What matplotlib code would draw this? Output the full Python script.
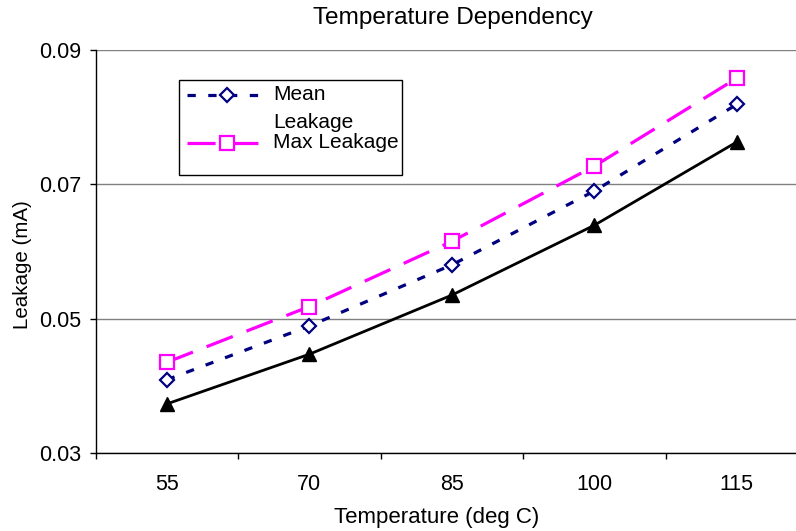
import matplotlib
matplotlib.use("Agg")
import matplotlib.pyplot as plt
from matplotlib.lines import Line2D
from matplotlib.patches import Rectangle
import numpy as np

plt.rcParams['font.family'] = ['Liberation Sans', 'DejaVu Sans']

temps = ["55", "70", "85", "100", "115"]
mean_leak = [0.0409, 0.0489, 0.0580, 0.0690, 0.0819]
max_leak = [0.0435, 0.0518, 0.0615, 0.0727, 0.0858]
min_leak = [0.0373, 0.0447, 0.0535, 0.0639, 0.0763]

W, H = 796, 531
NAVY, MAGENTA = '#000080', '#FF00FF'
mean_dash = (2.6, 3.9)
max_dash = (8.8, 4.6)

fig = plt.figure(figsize=(W / 100, H / 100), dpi=100)
# plot area runs past the right edge of the picture, as in the original
ax = fig.add_axes([95.5 / W, (H - 453) / H, (808 - 95.5) / W, (453 - 50) / H])

x = np.arange(len(temps))
ax.plot(x, min_leak, color='black', lw=2.0, marker='^', ms=10,
        mfc='black', mec='black', zorder=3)
ax.plot(x, mean_leak, color=NAVY, lw=2.3, dashes=mean_dash,
        marker='D', ms=7, mfc='white', mec=NAVY, mew=1.6, zorder=4)
ax.plot(x, max_leak, color=MAGENTA, lw=2.3, dashes=max_dash,
        marker='s', ms=9.5, mfc='white', mec=MAGENTA, mew=1.6, zorder=4)

ax.set_xlim(-0.5, len(temps) - 0.5)
ax.set_ylim(0.03, 0.09)
ax.set_yticks([0.03, 0.05, 0.07, 0.09])
ax.set_yticklabels(["0.03", "0.05", "0.07", "0.09"])
ax.set_xticks(x)
ax.set_xticklabels(temps)
ax.set_xticks(np.arange(-0.5, len(temps)), minor=True)
ax.tick_params(axis='x', which='major', length=0, pad=15, labelsize=15.5)
ax.tick_params(axis='x', which='minor', length=4.5, width=1, direction='out')
ax.tick_params(axis='y', which='major', length=4.5, width=1, direction='out',
               pad=6, labelsize=15.5)

ax.grid(axis='y', color='#808080', lw=1)
ax.set_axisbelow(True)
for s in ['top', 'right']:
    ax.spines[s].set_visible(False)
for s in ['left', 'bottom']:
    ax.spines[s].set_color('black')
    ax.spines[s].set_linewidth(1)

fig.text(453 / W, 1 - 18 / H, "Temperature Dependency", ha='center', va='center', fontsize=17.6)
fig.text(437 / W, 1 - 517 / H, "Temperature (deg C)", ha='center', va='center', fontsize=16)
fig.text(23 / W, 1 - 265 / H, "Leakage (mA)", ha='center', va='center', rotation=90, fontsize=14.8)

# legend drawn by hand (the box truncates the third series like the original)
fig.add_artist(Rectangle((179 / W, 1 - 175 / H), (402 - 179) / W, (175 - 80) / H,
                         transform=fig.transFigure, facecolor='white', edgecolor='black',
                         lw=1, zorder=5))
for color, dash, mk, ms, yy in [(NAVY, mean_dash, 'D', 7, 95), (MAGENTA, max_dash, 's', 9.5, 143)]:
    fig.add_artist(Line2D([187 / W, 258 / W], [1 - yy / H] * 2, transform=fig.transFigure,
                          color=color, lw=2.3, dashes=dash, zorder=6))
    fig.add_artist(Line2D([227 / W], [1 - yy / H], transform=fig.transFigure,
                          marker=mk, ms=ms, mfc='white', mec=color, mew=1.6,
                          ls='none', zorder=7))
fig.text(273 / W, 1 - 95 / H, "Mean", ha='left', va='center', fontsize=15, zorder=7)
fig.text(273 / W, 1 - 122 / H, "Leakage", ha='left', va='center', fontsize=15, zorder=7)
fig.text(273 / W, 1 - 142 / H, "Max Leakage", ha='left', va='center', fontsize=15, zorder=7)

fig.savefig("out.png", dpi=100)
